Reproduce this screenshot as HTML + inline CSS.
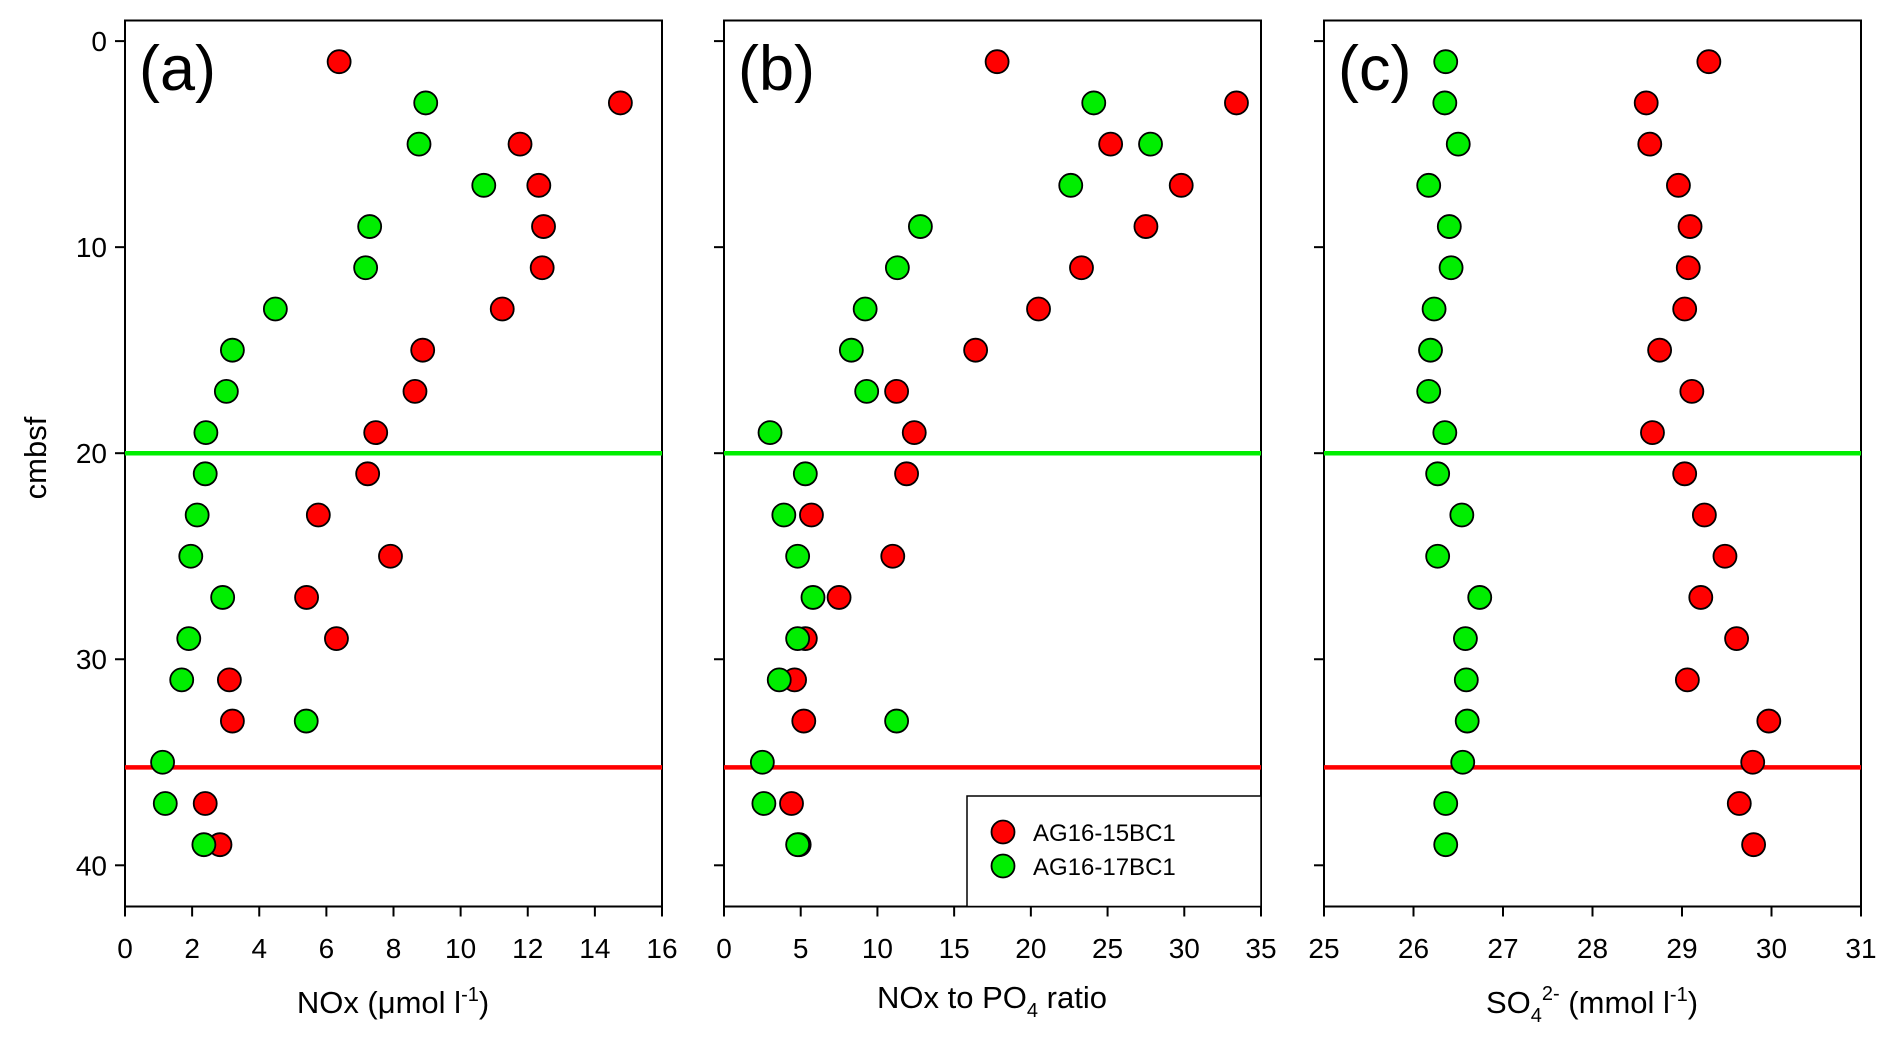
<!DOCTYPE html>
<html><head><meta charset="utf-8">
<style>
html,body{margin:0;padding:0;background:#fff;}
svg{display:block;font-family:"Liberation Sans",Arial,sans-serif;}
</style></head>
<body>
<svg id="chart" width="1892" height="1043" viewBox="0 0 1892 1043" xmlns="http://www.w3.org/2000/svg"></svg>
<script>
const depths = [1,3,5,7,9,11,13,15,17,19,21,23,25,27,29,31,33,35,37,39];
// null = no measurement
const noxRed   = [6.38,14.76,11.77,12.33,12.47,12.43,11.24,8.87,8.64,7.47,7.23,5.76,7.91,5.41,6.3,3.11,3.2,null,2.39,2.83];
const noxGreen = [null,8.96,8.76,10.69,7.29,7.17,4.48,3.2,3.02,2.41,2.39,2.15,1.96,2.91,1.9,1.69,5.4,1.12,1.2,2.35];
const ratioRed   = [17.8,33.4,25.2,29.8,27.5,23.3,20.5,16.4,11.25,12.4,11.9,5.7,11.0,7.5,5.3,4.6,5.2,null,4.4,4.9];
const ratioGreen = [null,24.1,27.8,22.6,12.8,11.3,9.2,8.3,9.3,3.0,5.3,3.9,4.8,5.8,4.8,3.6,11.25,2.5,2.6,4.8];
const so4Red   = [29.3,28.6,28.64,28.96,29.09,29.07,29.03,28.75,29.11,28.67,29.03,29.25,29.48,29.21,29.61,29.06,29.97,29.79,29.64,29.8];
const so4Green = [26.36,26.35,26.5,26.17,26.4,26.42,26.23,26.19,26.17,26.35,26.27,26.54,26.27,26.74,26.58,26.59,26.6,26.55,26.36,26.36];
const yTicks = [0,10,20,30,40];
const xTicksA = [0,2,4,6,8,10,12,14,16];
const xTicksB = [0,5,10,15,20,25,30,35];
const xTicksC = [25,26,27,28,29,30,31];
const greenLineDepth = 20;
const redLineDepth = 35.25;

const NS = "http://www.w3.org/2000/svg";
const svg = document.getElementById('chart');
function mk(tag, attrs, parent){
  const e = document.createElementNS(NS, tag);
  for (const k in attrs) e.setAttribute(k, attrs[k]);
  (parent||svg).appendChild(e);
  return e;
}
const plotTop = 20.5, plotBottom = 906.5;
const yMin = -1, yMax = 42;
function yScale(d){ return plotTop + (d - yMin) / (yMax - yMin) * (plotBottom - plotTop); }

const panels = [
  {id:'a', left:125, right:662, xmin:0, xmax:16, ticks:xTicksA, red:noxRed, green:noxGreen},
  {id:'b', left:724, right:1261, xmin:0, xmax:35, ticks:xTicksB, red:ratioRed, green:ratioGreen},
  {id:'c', left:1324, right:1861, xmin:25, xmax:31, ticks:xTicksC, red:so4Red, green:so4Green}
];

panels.forEach(p => {
  const xs = v => p.left + (v - p.xmin) / (p.xmax - p.xmin) * (p.right - p.left);
  const g = mk('g', {});
  
  
  const fr = mk('rect', {x:p.left, y:plotTop, width:p.right-p.left, height:plotBottom-plotTop, fill:'none', stroke:'#000', 'stroke-width':2}, g);
  
  
  yTicks.forEach(t => {
    const y = yScale(t);
    const tk = mk('line', {x1:p.left-10, x2:p.left, y1:y, y2:y, stroke:'#000', 'stroke-width':2}, g);
    
    
    if (p.id === 'a') {
      const tl = mk('text', {x:p.left-18, y:y+10, 'text-anchor':'end', 'font-size':28}, g);
      tl.textContent = t;
      
      
    }
  });
  p.ticks.forEach(t => {
    const x = xs(t);
    const tk = mk('line', {x1:x, x2:x, y1:plotBottom, y2:plotBottom+10, stroke:'#000', 'stroke-width':2}, g);
    
    
    const tl = mk('text', {x:x, y:958, 'text-anchor':'middle', 'font-size':28}, g);
    tl.textContent = t;
    
    
  });
  const gl = mk('line', {x1:p.left, x2:p.right, y1:yScale(greenLineDepth), y2:yScale(greenLineDepth), stroke:'#00ee00', 'stroke-width':4.5}, g);
  
  
  const rl = mk('line', {x1:p.left, x2:p.right, y1:yScale(redLineDepth), y2:yScale(redLineDepth), stroke:'#ff0000', 'stroke-width':4.5}, g);
  
  
  depths.forEach((d,i) => {
    const v = p.red[i];
    if (v === null) return;
    const c = mk('circle', {cx:xs(v), cy:yScale(d), r:11.5, fill:'#ff0000', stroke:'#000', 'stroke-width':1.8}, g);
    
    
  });
  depths.forEach((d,i) => {
    const v = p.green[i];
    if (v === null) return;
    const c = mk('circle', {cx:xs(v), cy:yScale(d), r:11.5, fill:'#00ee00', stroke:'#000', 'stroke-width':1.8}, g);
    
    
  });
  const pl = mk('text', {x:p.left+14, y:90, 'font-size':63}, g);
  pl.textContent = '(' + p.id + ')';
  
  
});

const yt = mk('text', {x:0, y:0, 'text-anchor':'middle', 'font-size':31, transform:'translate(46,458) rotate(-90)'});
yt.textContent = 'cmbsf';



const t1 = mk('text', {x:393, y:1013, 'text-anchor':'middle', 'font-size':31});
t1.innerHTML = 'NOx (μmol l<tspan dy="-12" font-size="20">-1</tspan><tspan dy="12">)</tspan>';



const t2 = mk('text', {x:992, y:1008, 'text-anchor':'middle', 'font-size':31});
t2.innerHTML = 'NOx to PO<tspan dy="9" font-size="20">4</tspan><tspan dy="-9"> ratio</tspan>';



const t3 = mk('text', {x:1592, y:1013, 'text-anchor':'middle', 'font-size':31});
t3.innerHTML = 'SO<tspan dy="9" font-size="20">4</tspan><tspan dy="-22" font-size="20">2-</tspan><tspan dy="13"> (mmol l</tspan><tspan dy="-12" font-size="20">-1</tspan><tspan dy="12">)</tspan>';



const lg = mk('g', {});


const lb = mk('rect', {x:967, y:796, width:294, height:110.5, fill:'#fff', stroke:'#000', 'stroke-width':1.5}, lg);


const le = [['AG16-15BC1','#ff0000',832],['AG16-17BC1','#00ee00',866]];
le.forEach(e => {
  const c = mk('circle', {cx:1003, cy:e[2], r:11.5, fill:e[1], stroke:'#000', 'stroke-width':1.8}, lg);
  
  
  const t = mk('text', {x:1033, y:e[2]+9, 'font-size':24}, lg);
  t.textContent = e[0];
  
  
});
</script>
</body></html>
